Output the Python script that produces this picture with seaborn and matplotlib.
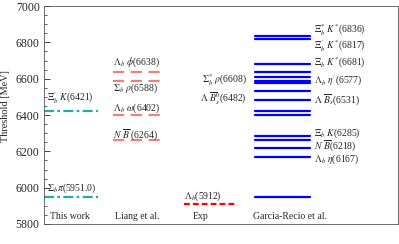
import matplotlib
matplotlib.use("Agg")
import matplotlib.pyplot as plt
import pandas as pd
import seaborn as sns
from matplotlib.ticker import MultipleLocator

# 閾値データ (MeV)
this_work = [6421, 5951.0]
liang = [6638, 6588, 6402, 6264]
exp = [5912]
garcia = [6836, 6817, 6681, 6638, 6608, 6588, 6577, 6531, 6482,
          6421, 6402, 6285, 6264, 6218, 6167, 5951]
columns = ["This work", "Liang et al.", "Exp", "Garcia-Recio et al."]

sns.set_style("ticks")
plt.rcParams["font.family"] = ["Liberation Serif", "DejaVu Serif"]
plt.rcParams["mathtext.fontset"] = "stix"
plt.rcParams["axes.linewidth"] = 0.6


def seg_frame(values, x0, x1):
    rows = []
    for i, v in enumerate(values):
        rows.append({"x": x0, "y": v, "u": i})
        rows.append({"x": x1, "y": v, "u": i})
    return pd.DataFrame(rows)


fig = plt.figure(figsize=(3.99, 2.44), dpi=100)
ax = fig.add_axes([0.110, 0.082, 0.8875, 0.893])

groups = [
    (this_work, 0.0, 0.76, "#1aaeb0", (0, (4.5, 1.5, 1.2, 1.5)), 1.6),
    (liang, 0.98, 1.64, "#f08080", (0, (5.0, 3.0)), 1.6),
    (exp, 1.98, 2.70, "#ff0000", (0, (2.6, 1.4)), 1.6),
    (garcia, 2.98, 3.76, "#0000ff", "-", 1.6),
]
for vals, x0, x1, col, ls, lw in groups:
    sns.lineplot(data=seg_frame(vals, x0, x1), x="x", y="y", units="u",
                 estimator=None, color=col, linestyle=ls, linewidth=lw,
                 legend=False, ax=ax)

fs = 7.0
# This work
ax.text(0.04, 6494, r"$\Xi_b^{\prime}\ K$(6421)", fontsize=fs, va="center")
ax.text(0.04, 5998, r"$\Sigma_b\pi$(5951.0)", fontsize=fs, va="center")
# Liang et al.
ax.text(0.975, 6692, r"$\Lambda_b\ \phi$(6638)", fontsize=fs, va="center")
ax.text(0.975, 6549, r"$\Sigma_b\ \rho$(6588)", fontsize=fs, va="center")
ax.text(0.975, 6438, r"$\Lambda_b\ \omega$(6402)", fontsize=fs, va="center")
ax.text(0.975, 6290, r"$N\ \overline{B}$ (6264)", fontsize=fs, va="center")
# Exp
ax.text(1.98, 5954, r"$\Lambda_b$(5912)", fontsize=fs, va="center")
# Garcia-Recio et al. 右側
gx = 3.81
ax.text(gx, 6868, r"$\Xi_b^{*}\ K^{*}$(6836)", fontsize=fs, va="center")
ax.text(gx, 6782, r"$\Xi_b^{\prime}\ K^{*}$(6817)", fontsize=fs, va="center")
ax.text(gx, 6690, r"$\Xi_b\ K^{*}$(6681)", fontsize=fs, va="center")
ax.text(gx, 6591, r"$\Lambda_b\ \eta^{\prime}$(6577)", fontsize=fs, va="center")
ax.text(gx, 6488, r"$\Lambda\ \overline{B}_s$(6531)", fontsize=fs, va="center")
ax.text(gx, 6302, r"$\Xi_b\ K$(6285)", fontsize=fs, va="center")
ax.text(gx, 6230, r"$N\ \overline{B}$(6218)", fontsize=fs, va="center")
ax.text(gx, 6158, r"$\Lambda_b\ \eta$(6167)", fontsize=fs, va="center")
# Garcia-Recio et al. 左側
ax.text(2.87, 6593, r"$\Sigma_b^{*}\ \rho$(6608)", fontsize=fs, va="center", ha="right")
ax.text(2.87, 6488, r"$\Lambda\ \overline{B}_s^{0}$(6482)", fontsize=fs, va="center", ha="right")

# 列ラベル
for name, xl in zip(columns, [0.085, 1.0, 2.1, 2.95]):
    ax.text(xl, 5839, name, fontsize=fs, va="center")

ax.set_xlim(0, 5)
ax.set_ylim(5800, 7000)
ax.yaxis.set_major_locator(MultipleLocator(200))
ax.yaxis.set_minor_locator(MultipleLocator(50))
ax.set_xticks([])
ax.tick_params(axis="y", which="major", direction="in", length=4, width=0.6,
               labelsize=8.5, pad=3)
ax.tick_params(axis="y", which="minor", direction="in", length=2, width=0.5)
ax.set_xlabel("")
ax.set_ylabel("Threshold [MeV]", fontsize=7.4)
ax.yaxis.set_label_coords(-0.095, 0.54)
for s in ax.spines.values():
    s.set_color("#555555")
    s.set_linewidth(0.6)

fig.savefig("out.png", dpi=100)
